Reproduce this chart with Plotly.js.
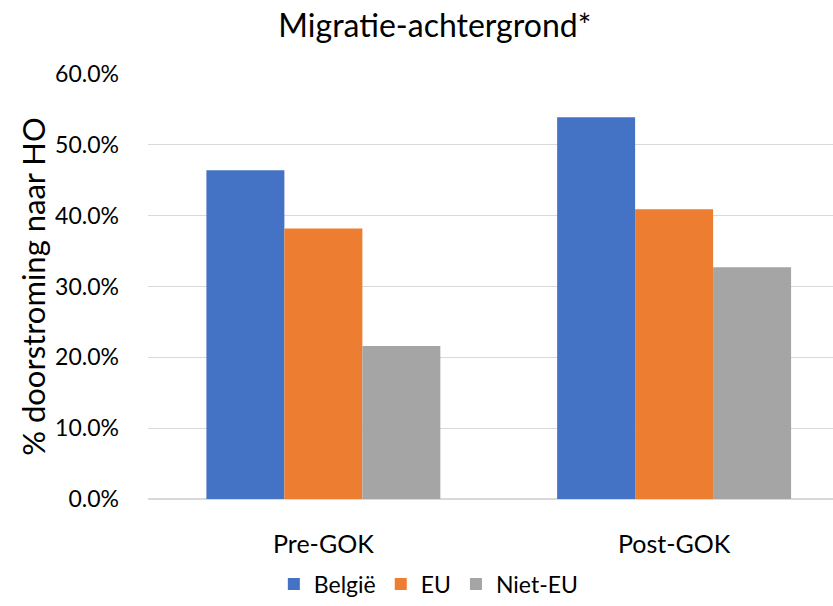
<!DOCTYPE html>
<html>
<head>
<meta charset="utf-8">
<script src="https://cdn.plot.ly/plotly-3.0.1.min.js"></script>
<style>html,body{margin:0;padding:0;background:#fff;}#chart{width:833px;height:606px;}</style>
</head>
<body>
<div id="chart"></div>
<script>
const categories = ["Pre-GOK", "Post-GOK"];
const seriesNames = ["België", "EU", "Niet-EU"];
const belgie = [0.464, 0.539];
const eu = [0.382, 0.409];
const nietEu = [0.216, 0.327];
const colors = ["#4472C4", "#ED7D31", "#A5A5A5"];
const yTicks = [0, 0.1, 0.2, 0.3, 0.4, 0.5, 0.6];

const seriesValues = [belgie, eu, nietEu];
const traces = seriesValues.map((vals, i) => ({
  type: "bar",
  name: seriesNames[i],
  x: categories,
  y: vals,
  marker: {color: colors[i]},
  hoverinfo: "none"
}));

const font = "Lato, 'Open Sans', sans-serif";
const layout = {
  width: 833, height: 606,
  margin: {l: 147.5, r: 0, t: 73.5, b: 107},
  paper_bgcolor: "#fff", plot_bgcolor: "#fff",
  font: {family: font, color: "#000", size: 25},
  title: {text: "Migratie-achtergrond*", font: {family: font, size: 32, color: "#000"}, x: 0.522, xanchor: "center", y: 0.958, yanchor: "middle"},
  barmode: "group",
  bargap: 0.333,
  bargroupgap: 0,
  xaxis: {
    type: "category",
    range: [-0.5, 1.453],
    showgrid: false,
    showline: false,
    zeroline: false,
    ticks: "",
    ticklabelstandoff: 28,
    tickfont: {size: 25, family: font}
  },
  yaxis: {
    range: [0, 0.6],
    tickvals: yTicks,
    tickformat: ".1%",
    showgrid: true,
    gridcolor: "#d9d9d9",
    gridwidth: 1.3,
    zeroline: true,
    zerolinecolor: "#d9d9d9",
    zerolinewidth: 1.3,
    showline: false,
    ticks: "",
    ticklabelstandoff: 28,
    tickfont: {size: 23, family: font},
    title: {text: "% doorstroming naar HO", font: {size: 31, family: font}, standoff: 0}
  },
  legend: {
    orientation: "h",
    x: 0.41, xanchor: "center",
    y: -0.2, yanchor: "middle",
    font: {size: 23, family: font},
    itemwidth: 30,
    traceorder: "normal"
  },
  showlegend: true
};

Plotly.newPlot("chart", traces, layout, {displayModeBar: false, staticPlot: true});
</script>
</body>
</html>
